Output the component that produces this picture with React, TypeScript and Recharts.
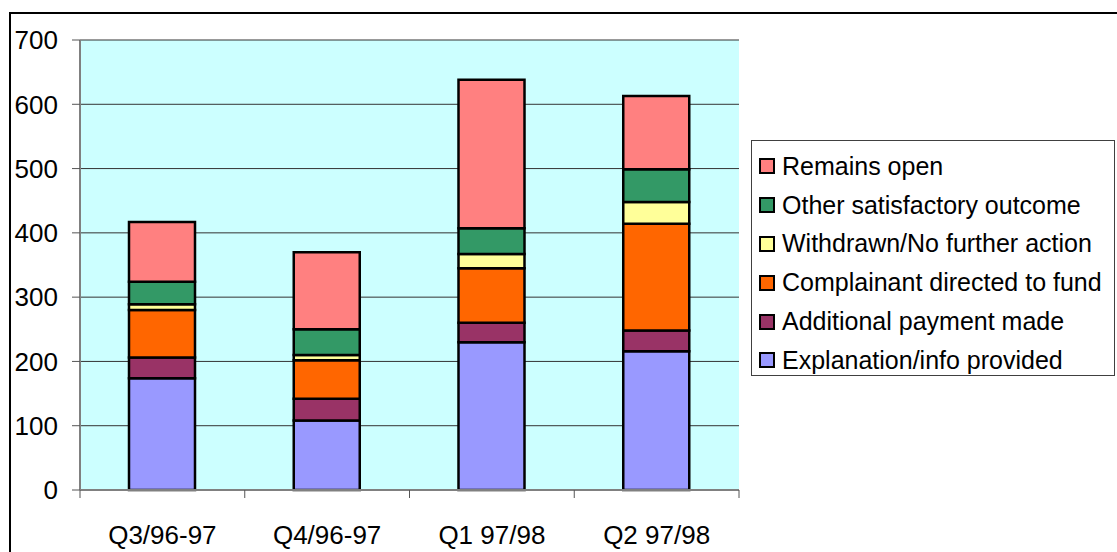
import React from "react"
import { Bar, BarChart, CartesianGrid, XAxis, YAxis } from "recharts"

const quarters = ["Q3/96-97", "Q4/96-97", "Q1 97/98", "Q2 97/98"]
const explanation = [174, 108, 230, 216]
const additional = [32, 34, 30, 32]
const complainant = [74, 60, 85, 166]
const withdrawn = [9, 8, 22, 34]
const other = [35, 40, 40, 51]
const remains = [93, 120, 231, 114]
const yTicks = [0, 100, 200, 300, 400, 500, 600, 700]

const series = [
  { key: "explanation", name: "Explanation/info provided", color: "#9999FF" },
  { key: "additional", name: "Additional payment made", color: "#993366" },
  { key: "complainant", name: "Complainant directed to fund", color: "#FF6600" },
  { key: "withdrawn", name: "Withdrawn/No further action", color: "#FFFF99" },
  { key: "other", name: "Other satisfactory outcome", color: "#339966" },
  { key: "remains", name: "Remains open", color: "#FF8080" },
]

const data = quarters.map((q, i) => ({
  quarter: q,
  explanation: explanation[i],
  additional: additional[i],
  complainant: complainant[i],
  withdrawn: withdrawn[i],
  other: other[i],
  remains: remains[i],
}))

const font = "'Liberation Sans', Arial, sans-serif"
const W = 1117
const H = 552
const M = { top: 40, right: 378, bottom: 0, left: 0 }
const Y_AXIS_W = 80
// width of one category band, used for the tick marks between categories
const band = (W - M.right - M.left - Y_AXIS_W) / quarters.length

// category label plus tick marks on the band edges (Excel style)
function QuarterTick(props: any) {
  const { x, y, payload, index } = props
  const left = x - band / 2
  const right = x + band / 2
  return (
    <g>
      <line x1={left} y1={y} x2={left} y2={y + 8} stroke="#555" />
      {index === quarters.length - 1 && (
        <line x1={right} y1={y} x2={right} y2={y + 8} stroke="#555" />
      )}
      <text
        x={x}
        y={y + 36}
        dy="0.71em"
        textAnchor="middle"
        fill="#000"
        fontSize={26}
        fontFamily={font}
      >
        {payload.value}
      </text>
    </g>
  )
}

export default function App() {
  return (
    <div
      style={{
        position: "absolute",
        left: 0,
        top: 0,
        width: W,
        height: H,
        background: "#fff",
        overflow: "hidden",
        fontFamily: font,
      }}
    >
      {/* outer frame, runs off the right and bottom edges */}
      <div
        style={{
          position: "absolute",
          left: 9,
          top: 12,
          width: 1130,
          height: 560,
          border: "2px solid #000",
        }}
      />
      <div style={{ position: "absolute", left: 0, top: 0 }}>
        <BarChart width={W} height={H} data={data} margin={M} barSize={66}>
          <CartesianGrid
            vertical={false}
            stroke="#333"
            fill="#CCFFFF"
            fillOpacity={1}
          />
          <XAxis
            dataKey="quarter"
            height={62}
            tickSize={0}
            tickMargin={0}
            tickLine={false}
            axisLine={{ stroke: "#808080", strokeWidth: 2 }}
            tick={<QuarterTick />}
            interval={0}
          />
          <XAxis
            xAxisId="top"
            orientation="top"
            dataKey="quarter"
            height={0}
            tick={false}
            tickLine={false}
            axisLine={{ stroke: "#808080", strokeWidth: 2 }}
          />
          <YAxis
            domain={[0, 700]}
            ticks={yTicks}
            width={Y_AXIS_W}
            tickSize={8}
            tickMargin={14}
            tickLine={{ stroke: "#555" }}
            axisLine={{ stroke: "#808080", strokeWidth: 2 }}
            tick={{ fill: "#000", fontSize: 26, fontFamily: font }}
          />
          <YAxis
            yAxisId="right"
            orientation="right"
            domain={[0, 700]}
            width={0}
            tick={false}
            tickLine={false}
            axisLine={{ stroke: "#808080", strokeWidth: 2 }}
          />
          {series.map((s) => (
            <Bar
              key={s.key}
              dataKey={s.key}
              name={s.name}
              stackId="a"
              fill={s.color}
              stroke="#000"
              strokeWidth={2.5}
              isAnimationActive={false}
            />
          ))}
        </BarChart>
      </div>
      {/* legend */}
      <div
        style={{
          position: "absolute",
          left: 751,
          top: 140,
          width: 364,
          height: 236,
          border: "1px solid #404040",
          background: "#fff",
          boxSizing: "border-box",
          paddingTop: 6,
        }}
      >
        {[...series].reverse().map((s) => (
          <div
            key={s.key}
            style={{
              display: "flex",
              alignItems: "center",
              height: 38.8,
              paddingLeft: 7,
              fontSize: 25,
              color: "#000",
              whiteSpace: "nowrap",
            }}
          >
            <span
              style={{
                display: "inline-block",
                width: 12,
                height: 12,
                background: s.color,
                border: "2px solid #000",
                marginRight: 7,
              }}
            />
            {s.name}
          </div>
        ))}
      </div>
    </div>
  )
}
